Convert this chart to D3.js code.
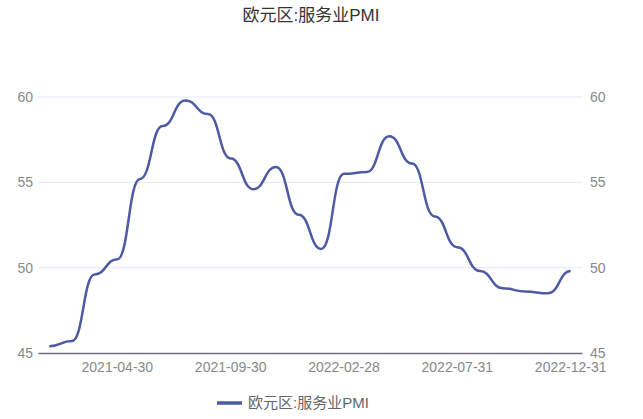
<!DOCTYPE html>
<html>
<head>
<meta charset="utf-8">
<script src="https://cdn.jsdelivr.net/npm/d3@7/dist/d3.min.js"></script>
<style>
  body { margin: 0; background: #fff; }
  svg { display: block; font-family: "Liberation Sans", Arial, "Noto Sans CJK SC", sans-serif; }
</style>
</head>
<body>
<svg id="chart"></svg>
<script>
// monthly dates, last day of month
var months = ["2021-01-31","2021-02-28","2021-03-31","2021-04-30","2021-05-31","2021-06-30",
              "2021-07-31","2021-08-31","2021-09-30","2021-10-31","2021-11-30","2021-12-31",
              "2022-01-31","2022-02-28","2022-03-31","2022-04-30","2022-05-31","2022-06-30",
              "2022-07-31","2022-08-31","2022-09-30","2022-10-31","2022-11-30","2022-12-31"]
var pmi = [45.4, 45.7, 49.6, 50.5, 55.2, 58.3, 59.8, 59.0, 56.4, 54.6, 55.9, 53.1,
           51.1, 55.5, 55.6, 57.7, 56.1, 53.0, 51.2, 49.8, 48.8, 48.6, 48.5, 49.8]
var yTicks = [45, 50, 55, 60]
var xTickLabels = ["2021-04-30", "2021-09-30", "2022-02-28", "2022-07-31", "2022-12-31"]
var seriesName = "欧元区:服务业PMI"
var title = "欧元区:服务业PMI"

var W = 643, H = 419
var margin = {top: 97, right: 61, bottom: 66, left: 38}
var width = W - margin.left - margin.right
var height = H - margin.top - margin.bottom

var lineColor = "#4e5aa4"
var axisColor = "#6e7079"

var svg = d3.select("#chart").attr("width", W).attr("height", H)

var x = d3.scaleBand().domain(months).range([margin.left, margin.left + width])
var y = d3.scaleLinear().domain([45, 60]).range([margin.top + height, margin.top])

// title
svg.append("text")
    .attr("x", 311).attr("y", 21)
    .attr("text-anchor", "middle")
    .attr("font-size", 17)
    .attr("fill", "#333")
    .text(title)

// grid
svg.append("g")
    .selectAll("line")
    .data(yTicks.filter(d => d !== 45))
    .join("line")
      .attr("x1", margin.left).attr("x2", margin.left + width)
      .attr("y1", d => y(d)).attr("y2", d => y(d))
      .attr("stroke", "#e6e9f3").attr("stroke-width", 1)

// left and right y labels
var yAxisL = svg.append("g")
    .attr("transform", `translate(${margin.left - 5},0)`)
    .call(d3.axisLeft(y).tickValues(yTicks).tickSize(0).tickPadding(0))
var yAxisR = svg.append("g")
    .attr("transform", `translate(${margin.left + width + 8},0)`)
    .call(d3.axisRight(y).tickValues(yTicks).tickSize(0).tickPadding(0))
;[yAxisL, yAxisR].forEach(g => {
    g.select(".domain").remove()
    g.selectAll("text").attr("font-size", 14).attr("fill", "#888").attr("font-family", null)
})

// x axis
var xAxis = svg.append("g")
    .attr("transform", `translate(0,${margin.top + height})`)
    .call(d3.axisBottom(x).tickValues(xTickLabels).tickSize(0).tickPadding(9))
xAxis.select(".domain").attr("stroke", axisColor).attr("stroke-width", 1.5)
xAxis.selectAll("text").attr("font-size", 14).attr("fill", "#888").attr("font-family", null)

// line, horizontal tangents at each point
var line = d3.line()
    .x((d, i) => x(months[i]) + x.bandwidth() / 2)
    .y(d => y(d))
    .curve(d3.curveBumpX)

svg.append("path")
    .datum(pmi)
    .attr("d", line)
    .attr("fill", "none")
    .attr("stroke", lineColor)
    .attr("stroke-width", 2.5)
    .attr("stroke-linejoin", "round")

// legend
var lg = svg.append("g").attr("transform", "translate(217,403)")
lg.append("line")
    .attr("x1", 0).attr("x2", 25).attr("y1", 0).attr("y2", 0)
    .attr("stroke", lineColor).attr("stroke-width", 3.5)
lg.append("text")
    .attr("x", 31).attr("y", 0).attr("dy", "0.35em")
    .attr("font-size", 15).attr("fill", "#666")
    .text(seriesName)
</script>
</body>
</html>
